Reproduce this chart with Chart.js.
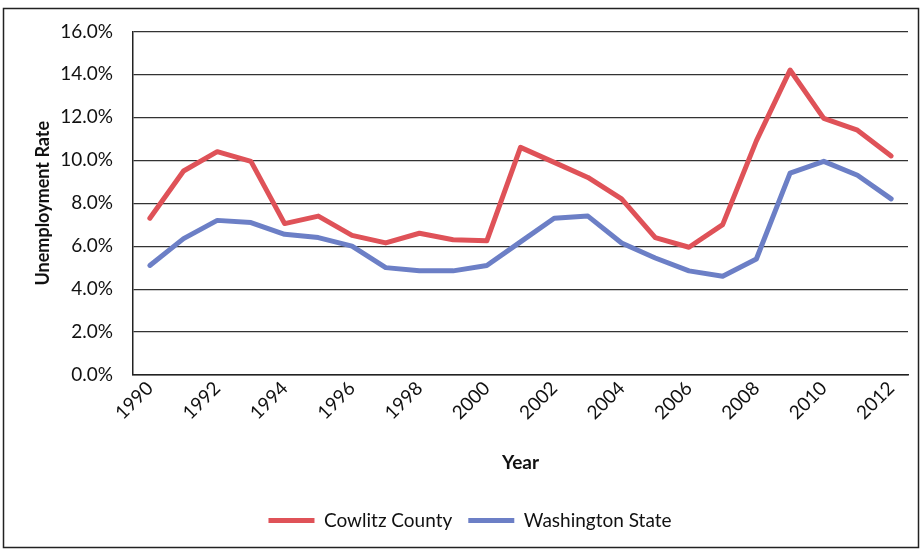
<!DOCTYPE html>
<html>
<head>
<meta charset="utf-8">
<script src="https://cdn.jsdelivr.net/npm/chart.js@4"></script>
<style>
  body { margin: 0; background: #fff; }
  #wrap { width: 922px; height: 550px; }
</style>
</head>
<body>
<div id="wrap"><canvas id="rateChart" width="922" height="550"></canvas></div>
<script>
// years on the x axis
const years = ["1990","1991","1992","1993","1994","1995","1996","1997","1998","1999","2000",
  "2001","2002","2003","2004","2005","2006","2007","2008","2009","2010","2011","2012"];

// unemployment rate, percent
const cowlitz = [7.3, 9.5, 10.4, 9.95, 7.05, 7.4, 6.5, 6.15, 6.6, 6.3, 6.25,
  10.6, 9.9, 9.2, 8.2, 6.4, 5.95, 7.0, 10.9, 14.2, 11.95, 11.4, 10.2];
const washington = [5.1, 6.35, 7.2, 7.1, 6.55, 6.4, 6.0, 5.0, 4.85, 4.85, 5.1,
  6.2, 7.3, 7.4, 6.15, 5.45, 4.85, 4.6, 5.4, 9.4, 9.95, 9.3, 8.2];

const yTicks = [0, 2, 4, 6, 8, 10, 12, 14, 16];

const fontName = "Lato, 'Noto Sans', sans-serif";

// frame round the whole chart
const framePlugin = {
  id: "frame",
  beforeDraw(c) {
    const ctx = c.ctx;
    ctx.save();
    ctx.fillStyle = "#fff";
    ctx.fillRect(0, 0, c.width, c.height);
    ctx.strokeStyle = "#222";
    ctx.lineWidth = 1.5;
    ctx.strokeRect(3.5, 8.5, 915, 539);
    ctx.restore();
  }
};

const ctx = document.getElementById("rateChart");

new Chart(ctx, {
  type: "line",
  data: {
    labels: years,
    datasets: [
      {
        label: "Cowlitz County",
        data: cowlitz,
        borderColor: "#df5258",
        backgroundColor: "#df5258",
        borderWidth: 5,
        borderCapStyle: "round",
        borderJoinStyle: "round",
        pointRadius: 0,
        tension: 0
      },
      {
        label: "Washington State",
        data: washington,
        borderColor: "#6c7fc6",
        backgroundColor: "#6c7fc6",
        borderWidth: 5,
        borderCapStyle: "round",
        borderJoinStyle: "round",
        pointRadius: 0,
        tension: 0
      }
    ]
  },
  options: {
    responsive: false,
    animation: false,
    layout: { padding: { top: 31, right: 14, left: 32, bottom: 10 } },
    plugins: {
      tooltip: { enabled: false },
      legend: {
        position: "bottom",
        labels: {
          usePointStyle: true,
          pointStyle: "line",
          pointStyleWidth: 46,
          color: "#111",
          padding: 16,
          font: { family: fontName, size: 19 }
        }
      }
    },
    scales: {
      x: {
        offset: true,
        grid: { display: false, drawTicks: false },
        border: { display: true, color: "#222", width: 1.5 },
        ticks: {
          autoSkip: false,
          minRotation: 45,
          maxRotation: 45,
          padding: 2,
          color: "#111",
          font: { family: fontName, size: 19 },
          callback: function (v, i) { return i % 2 === 0 ? years[i] : ""; }
        },
        title: {
          display: true,
          text: "Year",
          color: "#111",
          font: { family: fontName, size: 19, weight: "bold" },
          padding: { top: 4, bottom: 21 }
        },
        afterFit(scale) { scale.height = 120; }
      },
      y: {
        min: 0,
        max: 16,
        afterBuildTicks(scale) { scale.ticks = yTicks.map(v => ({ value: v })); },
        grid: { color: "#333", lineWidth: 1.2, drawTicks: false },
        border: { display: true, color: "#222", width: 1.5 },
        ticks: {
          padding: 20,
          color: "#111",
          font: { family: fontName, size: 19 },
          callback: v => v.toFixed(1) + "%"
        },
        title: {
          display: true,
          text: "Unemployment Rate",
          color: "#111",
          font: { family: fontName, size: 18, weight: "bold" },
          padding: { top: 0, bottom: 0 }
        },
        afterFit(scale) { scale.width = 101; }
      }
    }
  },
  plugins: [framePlugin]
});
</script>
</body>
</html>
